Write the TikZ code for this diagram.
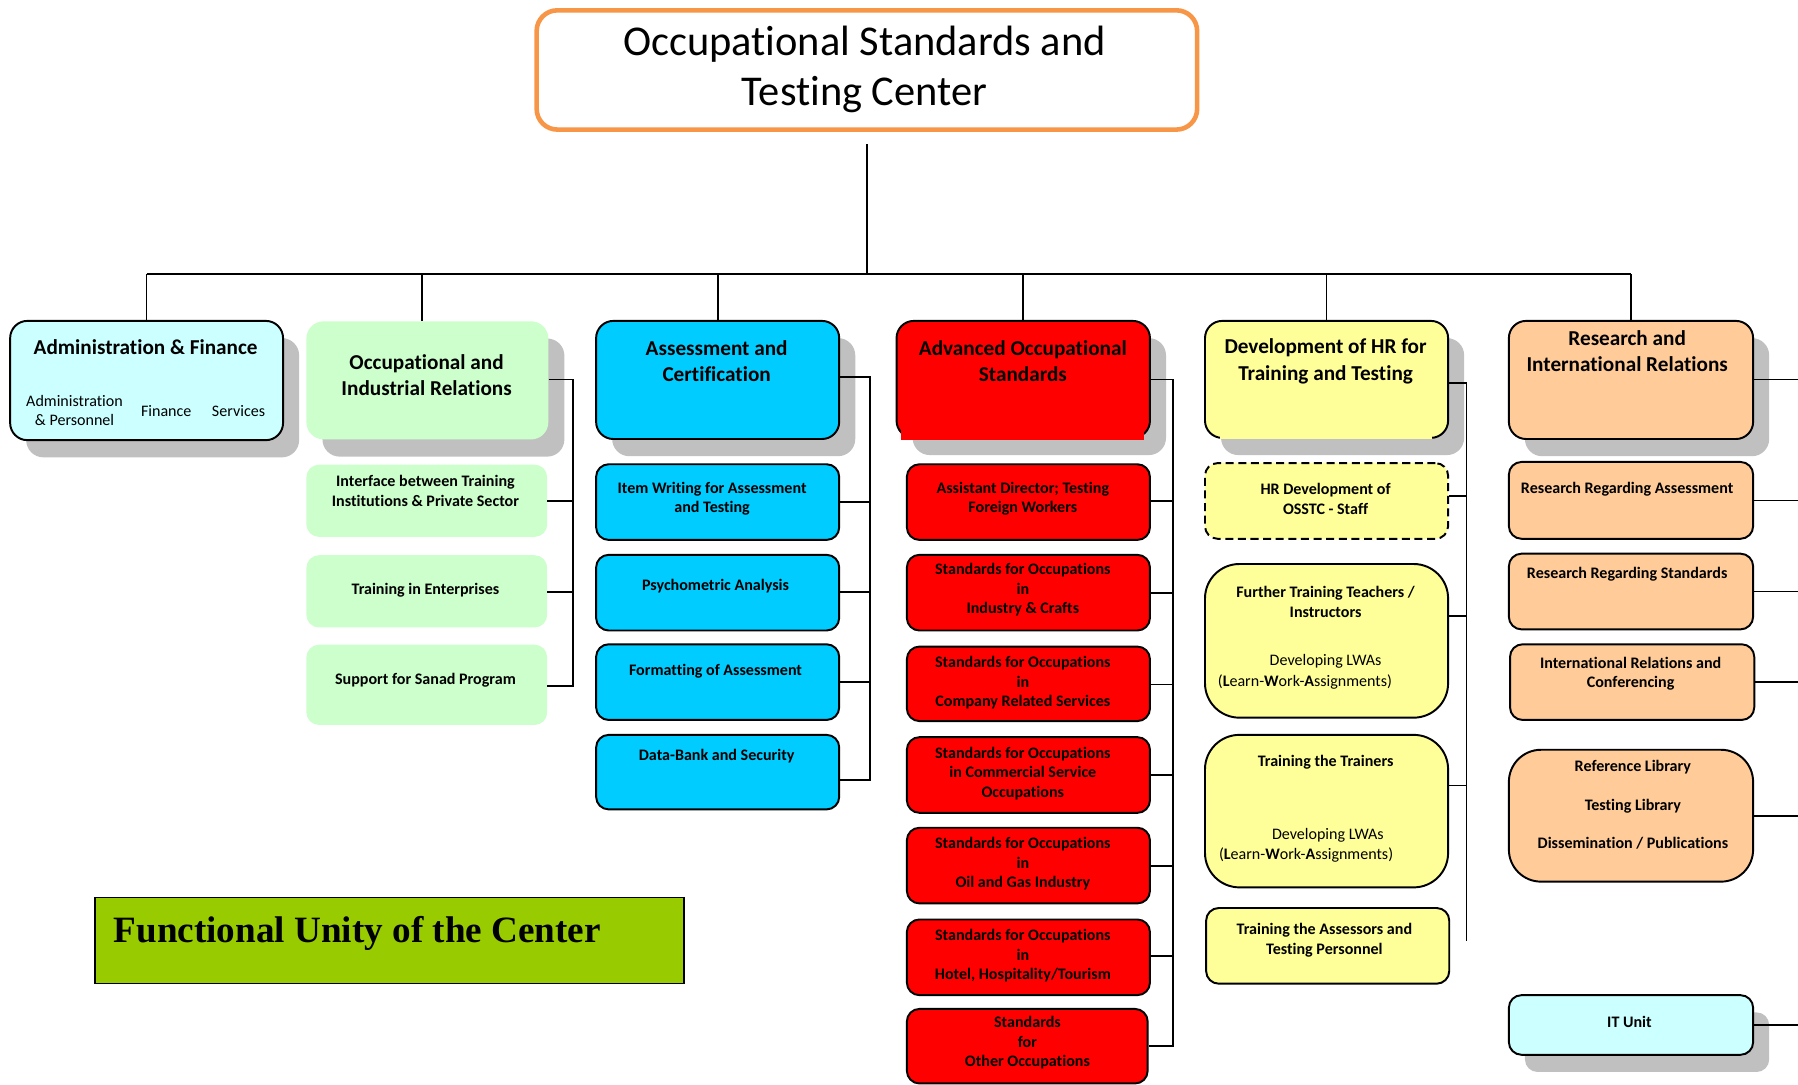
\documentclass[tikz,border=0pt]{standalone}
\usepackage{fontspec}
\setmainfont{Carlito}[Ligatures=NoCommon]
\newfontfamily\tnrfont{Liberation Serif}
\usetikzlibrary{shadows}
\definecolor{cyanL}{HTML}{CCFFFF}
\definecolor{greenL}{HTML}{CCFFCC}
\definecolor{blueB}{HTML}{00CCFF}
\definecolor{redB}{HTML}{FF0000}
\definecolor{yelL}{HTML}{FFFF99}
\definecolor{peachL}{HTML}{FFCC99}
\definecolor{limeB}{HTML}{99CC00}
\definecolor{orangeB}{HTML}{F79646}
\definecolor{shadowG}{HTML}{C0C0C0}
\newcommand\obox[6]{\node[#2, anchor=north west, inner sep=0pt, minimum width={#5-#3}, minimum height={#6-#4}] (#1) at (#3,#4) {};}
\begin{document}
\begin{tikzpicture}[x=1pt,y=-1pt,
  lvl/.style={rounded corners=15pt, draw=black, line width=1.7pt},
  lvlnb/.style={rounded corners=15pt},
  subbox/.style={rounded corners=11pt, draw=black, line width=1.7pt},
  subnb/.style={rounded corners=11pt},
  bigr/.style={rounded corners=28pt, draw=black, line width=1.7pt},
  shad/.style={drop shadow={shadow xshift=14pt, shadow yshift=-15pt, fill=shadowG, opacity=1}},
  ttl/.style={font=\bfseries\fontsize{18.5}{23}\selectfont, align=center, inner sep=0pt},
  st/.style={font=\bfseries\fontsize{14}{17}\selectfont, align=center, inner sep=0pt},
  rt/.style={font=\fontsize{14}{17}\selectfont, align=center, inner sep=0pt},
  conn/.style={line width=1.5pt, draw=black}
]
\useasboundingbox (0,0) rectangle (1568,946);

% ---- title
\obox{title}{rounded corners=18pt, draw=orangeB, line width=4pt, fill=white}{466}{7}{1042}{111}
\node[font=\fontsize{37}{44}\selectfont, align=center, inner sep=0pt] (titleT) at (754,60.5) {Occupational Standards and\\Testing Center};

% ---- level 1 boxes
\obox{adm}{lvl, shad, fill=cyanL}{8}{279}{246}{383}
\obox{oir}{lvlnb, shad, fill=greenL}{267}{280}{478}{383}
\obox{ass}{lvl, shad, fill=blueB}{519}{279}{731}{382}
\obox{aos}{lvl, shad, fill=redB}{781}{279}{1002}{381}
\obox{hr}{lvl, shad, fill=yelL}{1050}{279}{1262}{381}
\obox{res}{lvl, shad, fill=peachL}{1315}{279}{1528}{382}
\fill[redB] (786,369) rectangle (998,383.5);
\fill[yelL] (1064,372) rectangle (1249,382.5);

\node[ttl] (admT) at (127,302.5) {Administration \& Finance};
\node[rt] (admA) at (65,358) {Administration\\\& Personnel};
\node[rt] (admB) at (145,358.5) {Finance};
\node[rt] (admC) at (208,358.5) {Services};
\node[ttl] (oirT) at (372,327) {Occupational and\\Industrial Relations};
\node[ttl] (assT) at (625,315) {Assessment and\\Certification};
\node[ttl] (aosT) at (892,315) {Advanced Occupational\\Standards};
\node[ttl] (hrT) at (1156,315) {Development of HR for\\Training and Testing};
\node[ttl] (resT) at (1419,306) {Research and\\International Relations};

% ---- bus
\coordinate (bus) at (755,239);
\draw[conn] ([yshift=-11pt]title.south) -- (title.south |- bus);
\draw[conn] (adm.north |- bus) -- (res.north |- bus);
\draw[conn] (adm.north) -- (adm.north |- bus);
\draw[conn] ([xshift=-4.5pt]oir.north) -- ([xshift=-4.5pt]oir.north |- bus);
\draw[conn] (ass.north) -- (ass.north |- bus);
\draw[conn] (aos.north) -- (aos.north |- bus);
\draw[conn] (hr.north) -- (hr.north |- bus);
\draw[conn] (res.north) -- (res.north |- bus);

% ---- OIR column
\obox{oir1}{subnb, fill=greenL}{267}{405}{477}{468}
\obox{oir2}{subnb, fill=greenL}{267}{484}{477}{547}
\obox{oir3}{subnb, fill=greenL}{267}{562}{477}{632}
\node[st] (oir1T) at (371,428) {Interface between Training\\Institutions \& Private Sector};
\node[st] (oir2T) at (371,514.5) {Training in Enterprises};
\node[st] (oir3T) at (371,593.5) {Support for Sanad Program};
\coordinate (ob0) at (500,331);
\coordinate (ob1) at (500,437);
\coordinate (ob2) at (500,516);
\coordinate (ob3) at (500,598);
\draw[conn] (ob0 -| oir.east) -- (ob0) -- (ob3) -- (ob3 -| oir3.east);
\draw[conn] (ob1 -| oir1.east) -- (ob1);
\draw[conn] (ob2 -| oir2.east) -- (ob2);

% ---- Assessment column
\obox{ass1}{subbox, fill=blueB}{519}{404}{731}{470}
\obox{ass2}{subbox, fill=blueB}{519}{483}{731}{549}
\obox{ass3}{subbox, fill=blueB}{519}{561}{731}{627}
\obox{ass4}{subbox, fill=blueB}{519}{640}{731}{705}
\node[st] (ass1T) at (621,435) {Item Writing for Assessment\\and Testing};
\node[st] (ass2T) at (624,511.5) {Psychometric Analysis};
\node[st] (ass3T) at (624,585.5) {Formatting of Assessment};
\node[st] (ass4T) at (625,659.5) {Data-Bank and Security};
\coordinate (ab0) at (759,329);
\coordinate (ab1) at (759,438);
\coordinate (ab2) at (759,516);
\coordinate (ab3) at (759,595);
\coordinate (ab4) at (759,680);
\draw[conn] (ab0 -| ass.east) -- (ab0) -- (ab4) -- (ab4 -| ass4.east);
\draw[conn] (ab1 -| ass1.east) -- (ab1);
\draw[conn] (ab2 -| ass2.east) -- (ab2);
\draw[conn] (ab3 -| ass3.east) -- (ab3);

% ---- AOS column
\obox{aos1}{subbox, fill=redB}{790}{404}{1002}{470}
\obox{aos2}{subbox, fill=redB}{790}{483}{1002}{549}
\obox{aos3}{subbox, fill=redB}{790}{563}{1002}{628}
\obox{aos4}{subbox, fill=redB}{790}{642}{1002}{708}
\obox{aos5}{subbox, fill=redB}{790}{721}{1002}{787}
\obox{aos6}{subbox, fill=redB}{790}{801}{1002}{867}
\obox{aos7}{subbox, fill=redB}{790}{879}{1000}{944}
\node[st] (aos1T) at (892,435) {Assistant Director; Testing\\Foreign Workers};
\node[st] (aos2T) at (892,514.5) {Standards for Occupations\\in\\Industry \& Crafts};
\node[st] (aos3T) at (892,595.5) {Standards for Occupations\\in\\Company Related Services};
\node[st] (aos4T) at (892,674.5) {Standards for Occupations\\in Commercial Service\\Occupations};
\node[st] (aos5T) at (892,753.5) {Standards for Occupations\\in\\Oil and Gas Industry};
\node[st] (aos6T) at (892,833.5) {Standards for Occupations\\in\\Hotel, Hospitality/Tourism};
\node[st] (aos7T) at (896,909.5) {Standards\\for\\Other Occupations};
\coordinate (sb0) at (1023,331);
\coordinate (sb1) at (1023,437);
\coordinate (sb2) at (1023,517);
\coordinate (sb3) at (1023,597);
\coordinate (sb4) at (1023,676);
\coordinate (sb5) at (1023,755);
\coordinate (sb6) at (1023,834);
\coordinate (sb7) at (1023,912);
\draw[conn] (sb0 -| aos.east) -- (sb0) -- (sb7) -- (sb7 -| aos7.east);
\draw[conn] (sb1 -| aos1.east) -- (sb1);
\draw[conn] (sb2 -| aos2.east) -- (sb2);
\draw[conn] (sb3 -| aos3.east) -- (sb3);
\draw[conn] (sb4 -| aos4.east) -- (sb4);
\draw[conn] (sb5 -| aos5.east) -- (sb5);
\draw[conn] (sb6 -| aos6.east) -- (sb6);

% ---- HR column
\obox{hr1}{subbox, dash pattern=on 7pt off 4pt, fill=yelL}{1050}{403}{1262}{469}
\obox{hr2}{rounded corners=30pt, draw=black, line width=1.7pt, fill=yelL}{1050}{491}{1262}{625}
\obox{hr3}{rounded corners=30pt, draw=black, line width=1.7pt, fill=yelL}{1050}{640}{1262}{773}
\obox{hr4}{subbox, fill=yelL}{1051}{791}{1263}{857}
\node[st] (hr1T) at (1156,435) {HR Development of\\OSSTC - Staff};
\node[st] (hr2T) at (1156,525) {Further Training Teachers /\\Instructors};
\node[rt] (hr2A) at (1156,576.5) {Developing LWAs};
\node[rt] (hr2B) at (1138,594.5) {(\textbf{L}earn-\textbf{W}ork-\textbf{A}ssignments)};
\node[st] (hr3T) at (1156,664.5) {Training the Trainers};
\node[rt] (hr3A) at (1158,728.5) {Developing LWAs};
\node[rt] (hr3B) at (1139,745.5) {(\textbf{L}earn-\textbf{W}ork-\textbf{A}ssignments)};
\node[st] (hr4T) at (1155,820) {Training the Assessors and\\Testing Personnel};
\coordinate (hb0) at (1279,334);
\coordinate (hb1) at (1279,432.5);
\coordinate (hb2) at (1279,537);
\coordinate (hb3) at (1279,685);
\coordinate (hbend) at (1279,821);
\draw[conn] (hb0 -| hr.east) -- (hb0) -- (hbend);
\draw[conn] (hb1 -| hr1.east) -- (hb1);
\draw[conn] (hb2 -| hr2.east) -- (hb2);
\draw[conn] (hb3 -| hr3.east) -- (hb3);

% ---- Research column
\obox{res1}{subbox, fill=peachL}{1315}{402}{1528}{469}
\obox{res2}{subbox, fill=peachL}{1315}{482}{1528}{548}
\obox{res3}{subbox, fill=peachL}{1316}{561}{1529}{627}
\obox{res4}{bigr, fill=peachL}{1315}{653}{1528}{768}
\obox{itu}{subbox, shad, fill=cyanL}{1315}{867}{1528}{919}
\node[st] (res1T) at (1419,426.5) {Research Regarding Assessment};
\node[st] (res2T) at (1419,500.5) {Research Regarding Standards};
\node[st] (res3T) at (1422,587.5) {International Relations and\\Conferencing};
\node[st] (res4T) at (1424,702) {Reference Library\\[16.5pt]Testing Library\\[16.5pt]Dissemination / Publications};
\node[st] (ituT) at (1421,891.5) {IT Unit};
\coordinate (rb) at (1568,0);
\draw[conn] ([yshift=-52pt]res.north east) -- ([yshift=-52pt]res.north east -| rb);
\draw[conn] (res1.east) -- (res1.east -| rb);
\draw[conn] (res2.east) -- (res2.east -| rb);
\draw[conn] (res3.east) -- (res3.east -| rb);
\draw[conn] (res4.east) -- (res4.east -| rb);
\draw[conn] (itu.east) -- (itu.east -| rb);

% ---- Functional unity label
\obox{fu}{draw=black, line width=1.5pt, fill=limeB}{82}{782}{596}{857}
\node[font=\tnrfont\bfseries\fontsize{32.4}{38}\selectfont, anchor=base west, inner sep=0pt] (fuT) at (99,822) {Functional Unity of the Center};
\end{tikzpicture}
\end{document}
